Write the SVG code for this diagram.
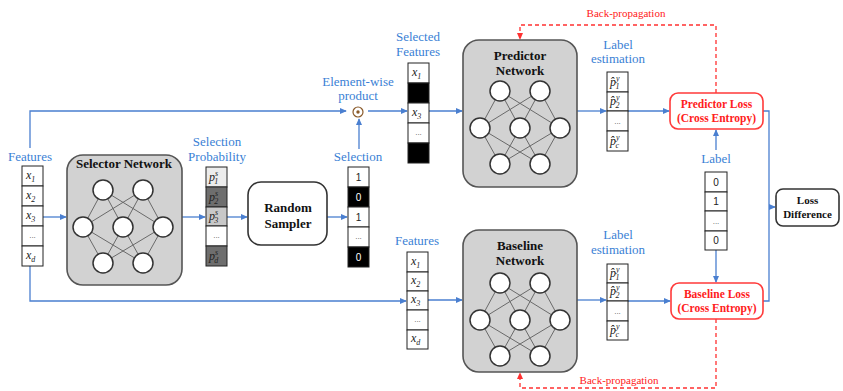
<svg xmlns="http://www.w3.org/2000/svg" width="843" height="391" viewBox="0 0 843 391">
<style>
.lbl{font-family:"Liberation Serif",serif;font-size:13px;fill:#3a7fd5;text-anchor:middle}
.ttl{font-family:"Liberation Serif",serif;font-size:13px;font-weight:bold;fill:#111;text-anchor:middle}
.red{font-family:"Liberation Serif",serif;font-size:11.5px;font-weight:bold;fill:#ff2020;text-anchor:middle}
.bp{font-family:"Liberation Serif",serif;font-size:11px;fill:#ff2020;text-anchor:middle}
.sm{font-family:"Liberation Serif",serif;font-size:11px;font-weight:bold;fill:#111;text-anchor:middle}
.m{font-family:"Liberation Serif",serif;font-size:12px;font-style:italic;fill:#222}
.s{font-size:8px}
.num{font-family:"Liberation Sans",sans-serif;font-size:10px;text-anchor:middle;fill:#222}
.numw{font-family:"Liberation Sans",sans-serif;font-size:10px;text-anchor:middle;fill:#fff}
.dots{font-family:"Liberation Sans",sans-serif;font-size:8px;text-anchor:middle;fill:#555}
.cell{stroke:#222;stroke-width:1;fill:#fff}
.blk{stroke:#222;stroke-width:1;fill:#000}
.net{fill:#d2d2d2;stroke:#555;stroke-width:1.6}
.nd{fill:#fff;stroke:#333;stroke-width:1.5}
.ed{stroke:#6a6a6a;stroke-width:1;fill:none}
.c{fill:none;stroke:#4a7fd0;stroke-width:1.3}
.cr{fill:none;stroke:#ff3030;stroke-width:1.3;stroke-dasharray:4 3}
.loss{fill:#fff;stroke:#ff3a3a;stroke-width:1.6}
.box{fill:#fff;stroke:#333;stroke-width:1.6}
</style>
<defs>
<marker id="ab" viewBox="0 0 8 8" refX="7" refY="4" markerWidth="7" markerHeight="7" markerUnits="userSpaceOnUse" orient="auto"><path d="M0,0.5 L8,4 L0,7.5 z" fill="#4a7fd0"/></marker>
<marker id="ar" viewBox="0 0 8 8" refX="7" refY="4" markerWidth="7" markerHeight="7" markerUnits="userSpaceOnUse" orient="auto"><path d="M0,0.5 L8,4 L0,7.5 z" fill="#ff3030"/></marker>
<g id="nn">
<g class="ed">
<path d="M0,0 L-20,37 M0,0 L20,37 M0,0 L60,37 M40,0 L-20,37 M40,0 L20,37 M40,0 L60,37"/>
<path d="M-20,37 L0,73 M-20,37 L40,73 M20,37 L0,73 M20,37 L40,73 M60,37 L0,73 M60,37 L40,73"/>
</g>
<circle class="nd" cx="0" cy="0" r="10"/><circle class="nd" cx="40" cy="0" r="10"/>
<circle class="nd" cx="-20" cy="37" r="10"/><circle class="nd" cx="20" cy="37" r="10"/><circle class="nd" cx="60" cy="37" r="10"/>
<circle class="nd" cx="0" cy="73" r="10"/><circle class="nd" cx="40" cy="73" r="10"/>
</g>
</defs>
<rect width="843" height="391" fill="#fff"/>

<g id="connectors">
<path class="c" d="M30,148 V111 H346" marker-end="url(#ab)"/>
<path class="c" d="M368,111 H407" marker-end="url(#ab)"/>
<path class="c" d="M359,149 V119" marker-end="url(#ab)"/>
<path class="c" d="M429,111 H462" marker-end="url(#ab)"/>
<path class="c" d="M577,111 H606" marker-end="url(#ab)"/>
<path class="c" d="M628,111 H669" marker-end="url(#ab)"/>
<path class="c" d="M43,217 H66" marker-end="url(#ab)"/>
<path class="c" d="M182,217 H205" marker-end="url(#ab)"/>
<path class="c" d="M227,217 H247" marker-end="url(#ab)"/>
<path class="c" d="M327,217 H347" marker-end="url(#ab)"/>
<path class="c" d="M30,266 V301 H406" marker-end="url(#ab)"/>
<path class="c" d="M428,300 H462" marker-end="url(#ab)"/>
<path class="c" d="M577,300 H606" marker-end="url(#ab)"/>
<path class="c" d="M628,301 H670" marker-end="url(#ab)"/>
<path class="c" d="M716,150 V130" marker-end="url(#ab)"/>
<path class="c" d="M716,250 V282" marker-end="url(#ab)"/>
<path class="c" d="M763,111 H769 V301 H763"/>
<path class="c" d="M769,207 H775" marker-end="url(#ab)"/>
<path class="cr" d="M716,93 V25 H520 V39" marker-end="url(#ar)"/>
<path class="cr" d="M716,319 V388 H520 V373" marker-end="url(#ar)"/>
</g>

<g id="features-in">
<text class="lbl" x="30" y="161">Features</text>
<rect class="cell" x="22" y="166" width="21" height="20"/>
<rect class="cell" x="22" y="186" width="21" height="20"/>
<rect class="cell" x="22" y="206" width="21" height="20"/>
<rect class="cell" x="22" y="226" width="21" height="20"/>
<rect class="cell" x="22" y="246" width="21" height="20"/>
<text class="m" x="26" y="179">x<tspan class="s" dy="3">1</tspan></text>
<text class="m" x="26" y="199">x<tspan class="s" dy="3">2</tspan></text>
<text class="m" x="26" y="219">x<tspan class="s" dy="3">3</tspan></text>
<text class="dots" x="32.5" y="238">...</text>
<text class="m" x="26" y="259">x<tspan class="s" dy="3">d</tspan></text>
</g>

<g id="selector-network">
<rect class="net" x="67" y="155" width="115" height="130" rx="16"/>
<text class="ttl" x="124" y="168">Selector Network</text>
<use href="#nn" x="103" y="190"/>
</g>

<g id="selection-probability">
<text class="lbl" x="217" y="146">Selection</text>
<text class="lbl" x="217" y="161">Probability</text>
<rect class="cell" x="206" y="167" width="21" height="20" style="fill:#ececec"/>
<rect class="cell" x="206" y="187" width="21" height="20" style="fill:#6e6e6e"/>
<rect class="cell" x="206" y="207" width="21" height="19" style="fill:#c8c8c8"/>
<rect class="cell" x="206" y="226" width="21" height="20"/>
<rect class="cell" x="206" y="246" width="21" height="20" style="fill:#6e6e6e"/>
<text class="m" x="209" y="181">p<tspan class="s" dy="-5">s</tspan><tspan class="s" dx="-4" dy="8">1</tspan></text>
<text class="m" x="209" y="201">p<tspan class="s" dy="-5">s</tspan><tspan class="s" dx="-4" dy="8">2</tspan></text>
<text class="m" x="209" y="220">p<tspan class="s" dy="-5">s</tspan><tspan class="s" dx="-4" dy="8">3</tspan></text>
<text class="dots" x="216.5" y="238">...</text>
<text class="m" x="209" y="260">p<tspan class="s" dy="-5">s</tspan><tspan class="s" dx="-4" dy="8">d</tspan></text>
</g>

<g id="random-sampler">
<rect class="box" x="248" y="182" width="79" height="63" rx="13"/>
<text class="ttl" x="288" y="212">Random</text>
<text class="ttl" x="288" y="228">Sampler</text>
</g>

<g id="selection">
<text class="lbl" x="358" y="161">Selection</text>
<rect class="cell" x="348" y="167" width="21" height="20"/>
<rect class="blk" x="348" y="187" width="21" height="20"/>
<rect class="cell" x="348" y="207" width="21" height="20"/>
<rect class="cell" x="348" y="227" width="21" height="20"/>
<rect class="blk" x="348" y="247" width="21" height="20"/>
<text class="num" x="358.5" y="181">1</text>
<text class="numw" x="358.5" y="201">0</text>
<text class="num" x="358.5" y="221">1</text>
<text class="dots" x="358.5" y="239">...</text>
<text class="numw" x="358.5" y="261">0</text>
</g>

<g id="element-wise-product">
<text class="lbl" x="358" y="86">Element-wise</text>
<text class="lbl" x="358" y="100">product</text>
<circle cx="358" cy="112" r="5" fill="#fff" stroke="#8a5a2a" stroke-width="1.2"/>
<circle cx="358" cy="112" r="1.7" fill="#8a5a2a"/>
</g>

<g id="selected-features">
<text class="lbl" x="418" y="41">Selected</text>
<text class="lbl" x="418" y="56">Features</text>
<rect class="cell" x="408" y="63" width="21" height="20"/>
<rect class="blk" x="408" y="83" width="21" height="20"/>
<rect class="cell" x="408" y="103" width="21" height="20"/>
<rect class="cell" x="408" y="123" width="21" height="20"/>
<rect class="blk" x="408" y="143" width="21" height="20"/>
<text class="m" x="412" y="76">x<tspan class="s" dy="3">1</tspan></text>
<text class="m" x="412" y="116">x<tspan class="s" dy="3">3</tspan></text>
<text class="dots" x="418.5" y="135">...</text>
</g>

<g id="predictor-network">
<rect class="net" x="463" y="40" width="114" height="147" rx="16"/>
<text class="ttl" x="520" y="60">Predictor</text>
<text class="ttl" x="520" y="75">Network</text>
<use href="#nn" x="500" y="91"/>
</g>

<g id="label-estimation-top">
<text class="lbl" x="618" y="49">Label</text>
<text class="lbl" x="618" y="63">estimation</text>
<rect class="cell" x="607" y="72" width="21" height="20"/>
<rect class="cell" x="607" y="92" width="21" height="19"/>
<rect class="cell" x="607" y="111" width="21" height="20"/>
<rect class="cell" x="607" y="131" width="21" height="20"/>
<text class="m" x="610" y="86">p̂<tspan class="s" dy="-5">y</tspan><tspan class="s" dx="-4" dy="8">1</tspan></text>
<text class="m" x="610" y="105">p̂<tspan class="s" dy="-5">y</tspan><tspan class="s" dx="-4" dy="8">2</tspan></text>
<text class="dots" x="617.5" y="124">...</text>
<text class="m" x="610" y="145">p̂<tspan class="s" dy="-5">y</tspan><tspan class="s" dx="-4" dy="8">c</tspan></text>
</g>

<g id="predictor-loss">
<rect class="loss" x="670" y="93" width="93" height="36" rx="8"/>
<text class="red" x="716.5" y="108">Predictor Loss</text>
<text class="red" x="716.5" y="122">(Cross Entropy)</text>
</g>

<g id="label">
<text class="lbl" x="716" y="163">Label</text>
<rect class="cell" x="705" y="172" width="22" height="20"/>
<rect class="cell" x="705" y="192" width="22" height="19"/>
<rect class="cell" x="705" y="211" width="22" height="20"/>
<rect class="cell" x="705" y="231" width="22" height="19"/>
<text class="num" x="716" y="186">0</text>
<text class="num" x="716" y="205">1</text>
<text class="dots" x="716" y="224">...</text>
<text class="num" x="716" y="244">0</text>
</g>

<g id="baseline-loss">
<rect class="loss" x="671" y="283" width="92" height="36" rx="8"/>
<text class="red" x="717" y="298">Baseline Loss</text>
<text class="red" x="717" y="312">(Cross Entropy)</text>
</g>

<g id="loss-difference">
<rect class="box" x="776" y="189" width="63" height="37" rx="7"/>
<text class="sm" x="807.5" y="204">Loss</text>
<text class="sm" x="807.5" y="218">Difference</text>
</g>

<g id="features-baseline">
<text class="lbl" x="417" y="245">Features</text>
<rect class="cell" x="407" y="252" width="21" height="20"/>
<rect class="cell" x="407" y="272" width="21" height="19"/>
<rect class="cell" x="407" y="291" width="21" height="19"/>
<rect class="cell" x="407" y="310" width="21" height="20"/>
<rect class="cell" x="407" y="330" width="21" height="19"/>
<text class="m" x="411" y="265">x<tspan class="s" dy="3">1</tspan></text>
<text class="m" x="411" y="284">x<tspan class="s" dy="3">2</tspan></text>
<text class="m" x="411" y="303">x<tspan class="s" dy="3">3</tspan></text>
<text class="dots" x="417.5" y="322">...</text>
<text class="m" x="411" y="342">x<tspan class="s" dy="3">d</tspan></text>
</g>

<g id="baseline-network">
<rect class="net" x="463" y="230" width="114" height="142" rx="16"/>
<text class="ttl" x="520" y="250">Baseline</text>
<text class="ttl" x="520" y="265">Network</text>
<use href="#nn" x="500" y="283"/>
</g>

<g id="label-estimation-bottom">
<text class="lbl" x="618" y="239">Label</text>
<text class="lbl" x="618" y="254">estimation</text>
<rect class="cell" x="607" y="264" width="21" height="19"/>
<rect class="cell" x="607" y="283" width="21" height="18"/>
<rect class="cell" x="607" y="301" width="21" height="20"/>
<rect class="cell" x="607" y="321" width="21" height="19"/>
<text class="m" x="610" y="277">p̂<tspan class="s" dy="-5">y</tspan><tspan class="s" dx="-4" dy="8">1</tspan></text>
<text class="m" x="610" y="295">p̂<tspan class="s" dy="-5">y</tspan><tspan class="s" dx="-4" dy="8">2</tspan></text>
<text class="dots" x="617.5" y="314">...</text>
<text class="m" x="610" y="334">p̂<tspan class="s" dy="-5">y</tspan><tspan class="s" dx="-4" dy="8">c</tspan></text>
</g>

<g id="backprop-labels">
<text class="bp" x="626" y="17">Back-propagation</text>
<text class="bp" x="619" y="384">Back-propagation</text>
</g>
</svg>
